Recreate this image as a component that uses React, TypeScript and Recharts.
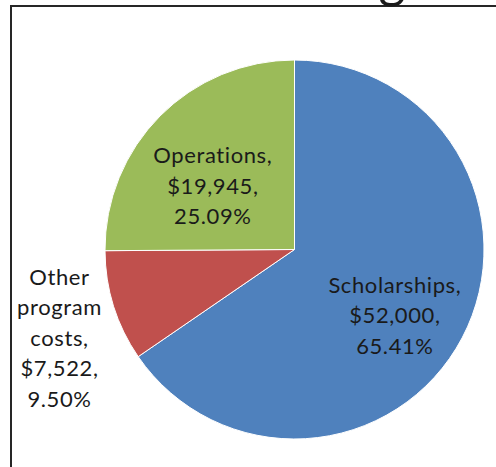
import React from 'react';
import { PieChart, Pie, Cell } from 'recharts';

const categories = ['Scholarships', 'Other program costs', 'Operations'];
const amounts = [52000, 7522, 19945];
const amountLabels = ['$52,000', '$7,522', '$19,945'];
const percentLabels = ['65.41%', '9.50%', '25.09%'];

const COLORS = ['#4F81BD', '#C0504D', '#9BBB59'];
const RADIAN = Math.PI / 180;

// label text broken into lines the way the original wraps them
const labelLines = [
  ['Scholarships,', `${amountLabels[0]},`, percentLabels[0]],
  ['Other', 'program', 'costs,', `${amountLabels[1]},`, percentLabels[1]],
  ['Operations,', `${amountLabels[2]},`, percentLabels[2]],
];

// radius factor + angle nudge for each label (Excel "best fit")
const labelPlace = [
  { r: 0.63, shift: -5 },
  { r: 1.323, shift: 3 },
  { r: 0.55, shift: 6.4 },
];

const data = categories.map((name, i) => ({ name, value: amounts[i] }));

const LINE_H = 30.5;

const renderLabel = (props: any) => {
  const { cx, cy, midAngle, outerRadius, index } = props;
  const place = labelPlace[index];
  const a = (midAngle + place.shift) * RADIAN;
  const r = outerRadius * place.r;
  const x = cx + r * Math.cos(-a);
  const y = cy + r * Math.sin(-a);
  const lines = labelLines[index];
  const top = y - ((lines.length - 1) * LINE_H) / 2;
  return (
    <text
      key={`lbl-${index}`}
      x={x}
      y={top}
      textAnchor="middle"
      dominantBaseline="central"
      fill="#1a1a1a"
      fontFamily="Lato, sans-serif"
      fontSize={22}
      letterSpacing={0.6}
    >
      {lines.map((t, i) => (
        <tspan key={i} x={x} y={top + i * LINE_H}>
          {t}
        </tspan>
      ))}
    </text>
  );
};

export default function App() {
  return (
    <div style={{ position: 'absolute', left: 0, top: 0, width: 496, height: 467, overflow: 'hidden', background: '#fff' }}>
      <div
        style={{
          position: 'absolute',
          left: 10,
          top: 5,
          width: 600,
          height: 600,
          borderTop: '2px solid #262626',
          borderLeft: '2px solid #262626',
        }}
      />
      <svg width={496} height={20} style={{ position: 'absolute', left: 0, top: 0 }}>
        <text x={392} y={-3} textAnchor="middle" fontFamily="Lato, sans-serif" fontSize={52} fill="#1a1a1a">
          g
        </text>
      </svg>
      <div style={{ position: 'absolute', left: 0, top: 0 }}>
        <PieChart width={496} height={467} margin={{ top: 0, right: 0, bottom: 0, left: 0 }}>
          <Pie
            data={data}
            dataKey="value"
            nameKey="name"
            cx={294.5}
            cy={249.5}
            outerRadius={189.5}
            startAngle={90}
            endAngle={-270}
            stroke="#ffffff"
            strokeWidth={1}
            label={renderLabel}
            labelLine={false}
            isAnimationActive={false}
          >
            {data.map((entry, index) => (
              <Cell key={`cell-${index}`} fill={COLORS[index]} />
            ))}
          </Pie>
        </PieChart>
      </div>
    </div>
  );
}
